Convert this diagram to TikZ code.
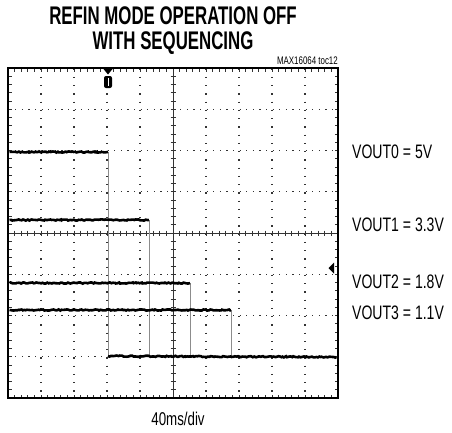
\documentclass[tikz,border=0pt]{standalone}
\usepackage{fontspec}
\setmainfont{Liberation Sans}
\newfontfamily\titlefont{Liberation Sans}[FakeStretch=0.66]
\newfontfamily\labelfont{Liberation Sans}[FakeStretch=0.72]
\usetikzlibrary{decorations.pathmorphing}

\tikzset{
  trace/.style={line width=2.6pt, black, decorate, decoration={random steps, segment length=1.5pt, amplitude=0.6pt}},
  drop/.style={line width=1pt, black!45},
  gridv/.style={line width=1.2pt, black!80, dash pattern=on 1.2pt off 7.05pt, dash phase=-0.6pt},
  gridh/.style={line width=1.2pt, black!80, dash pattern=on 1.2pt off 5.4pt, dash phase=-0.6pt},
  tick/.style={line width=0.9pt, black!80},
  titletext/.style={font=\titlefont\bfseries\fontsize{25.5}{25}\selectfont, inner sep=0pt, align=center},
  vlabel/.style={anchor=west, font=\labelfont\fontsize{19.5}{19.5}\selectfont, inner sep=0pt}
}

\begin{document}
\begin{tikzpicture}[x=1pt, y=-1pt]
\useasboundingbox (0,0) rectangle (452,432);

% title
\node[titletext] (title) at (173,31) {REFIN MODE OPERATION OFF\\WITH SEQUENCING};
\node[anchor=south east, font=\labelfont\fontsize{11}{11}\selectfont, inner sep=0pt] (ref) at (338,65) {MAX16064 toc12};

% graticule
\foreach \i in {1,2,3,4,6,7,8,9}
  \draw[gridv] (8+33*\i,68) -- (8+33*\i,398);
\foreach \j in {1,2,3,5,6,7}
  \draw[gridh] (8,68+41.25*\j) -- (338,68+41.25*\j);
\draw[tick] (8,233) -- (338,233);
\draw[tick] (173,68) -- (173,398);
\foreach \i in {1,...,49} {
  \draw[tick] (8+6.6*\i,230.5) -- ++(0,5);
  \draw[tick] (8+6.6*\i,68) -- ++(0,3.5);
  \draw[tick] (8+6.6*\i,398) -- ++(0,-3.5);
}
\foreach \j in {1,...,39} {
  \draw[tick] (170.5,68+8.25*\j) -- ++(5,0);
  \draw[tick] (8,68+8.25*\j) -- ++(3.5,0);
  \draw[tick] (338,68+8.25*\j) -- ++(-3.5,0);
}
\draw[line width=2.8pt] (8,68) rectangle (338,398);

% markers
\fill (103.5,69) -- (112.5,69) -- (108,74.5) -- cycle;
\fill[rounded corners=2pt] (104,76) rectangle (112,88);
\draw[white, line width=1pt] (108,78) -- (108,85.5);
\fill (334,262.5) -- (334,273.5) -- (328.5,268) -- cycle;

% traces
\draw[drop] (108,152) -- (108,356);
\draw[drop] (149,220) -- (149,356);
\draw[drop] (190,283) -- (190,357);
\draw[drop] (231,310) -- (231,357);
\draw[trace] (9.5,152) -- (108,152);
\draw[trace] (9.5,220) -- (149,220);
\draw[trace] (9.5,283) -- (190,283);
\draw[trace] (9.5,310) -- (231,310);
\draw[trace] (108,356) -- (190,356.5) -- (336.5,357);

% labels
\node[vlabel] (v0) at (352,152) {VOUT0 = 5V};
\node[vlabel] (v1) at (352,225) {VOUT1 = 3.3V};
\node[vlabel] (v2) at (352,282) {VOUT2 = 1.8V};
\node[vlabel] (v3) at (352,313) {VOUT3 = 1.1V};
\node[font=\labelfont\fontsize{18.5}{18.5}\selectfont] (xdiv) at (178,419) {40ms/div};
\end{tikzpicture}
\end{document}
